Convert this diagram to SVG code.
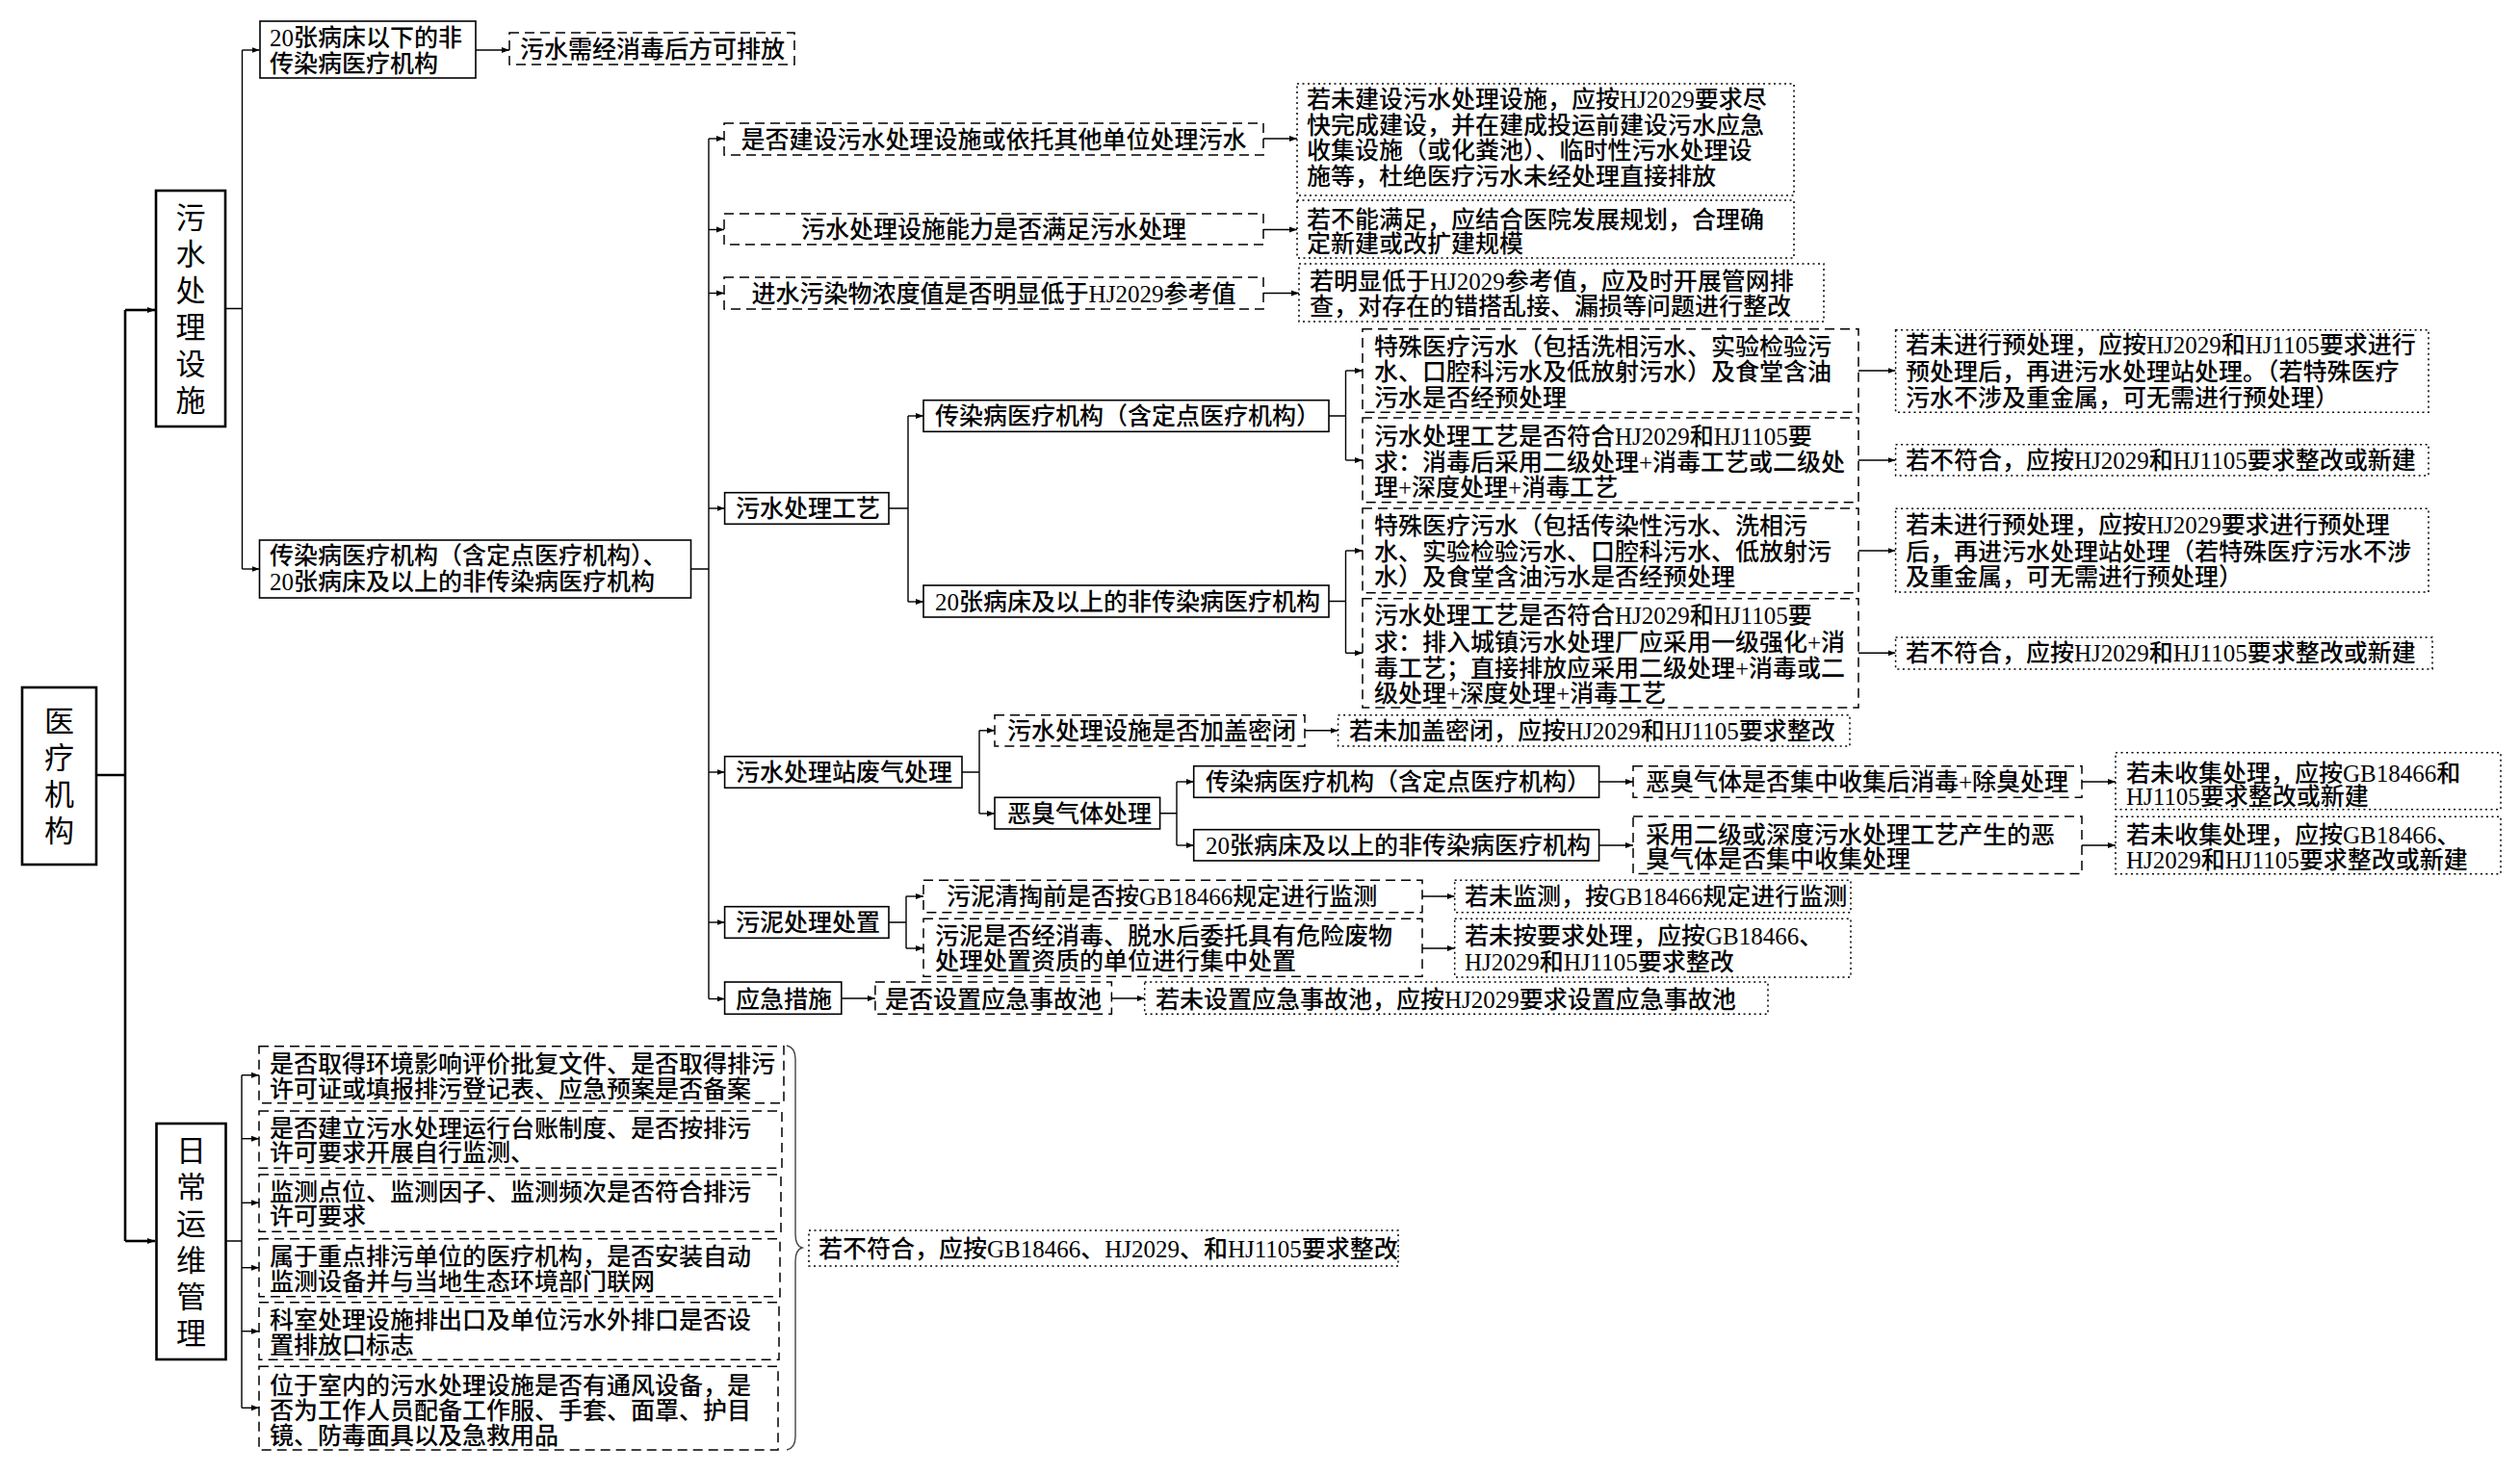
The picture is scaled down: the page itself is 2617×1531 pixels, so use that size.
<svg xmlns="http://www.w3.org/2000/svg" width="2617" height="1531" viewBox="0 0 2617 1531">
<style>
.t{font-family:"Liberation Serif","Noto Sans CJK SC",serif;font-size:25px;font-weight:500;fill:#000;}
.m{text-anchor:middle;}
.v{font-family:"Liberation Serif","Noto Sans CJK SC",serif;font-size:31px;fill:#000;text-anchor:middle;}
.main{fill:#fff;stroke:#000;stroke-width:2.6;}
.solid{fill:#fff;stroke:#000;stroke-width:1.6;}
.dash{fill:#fff;stroke:#000;stroke-width:1.5;stroke-dasharray:10 6;}
.dot{fill:#fff;stroke:#000;stroke-width:1.5;stroke-dasharray:2 3.5;}
.c{fill:none;stroke:#000;stroke-width:1.4;}
.cm{fill:none;stroke:#000;stroke-width:2.6;}
.a{marker-end:url(#ah);}
.brace{fill:none;stroke:#444;stroke-width:1.4;}
</style>
<defs>
<marker id="ah" viewBox="0 0 8 8" refX="8" refY="4" markerWidth="8" markerHeight="8" markerUnits="userSpaceOnUse" orient="auto"><path d="M0,1 L8,4 L0,7 z" fill="#000"/></marker>
</defs>
<rect width="2617" height="1531" fill="#fff"/>

<g id="connectors">
<path class="cm" d="M100,805 H130 M130,322 V1289"/>
<path class="cm a" d="M130,322 H161"/>
<path class="cm a" d="M130,1289 H161"/>
<path class="c" d="M234,320.5 H251.5 M251.5,52 V591"/>
<path class="c a" d="M251.5,52 H269.5"/>
<path class="c a" d="M251.5,591 H269.5"/>
<path class="c a" d="M494,52 H529"/>
<path class="c" d="M717.5,591 H736 M736,144 V1037.5"/>
<path class="c a" d="M736,144 H752"/>
<path class="c a" d="M736,238.5 H752"/>
<path class="c a" d="M736,304.5 H752"/>
<path class="c a" d="M736,528 H752.6"/>
<path class="c a" d="M736,802 H752.6"/>
<path class="c a" d="M736,958 H752.6"/>
<path class="c a" d="M736,1037.5 H752.6"/>
<path class="c a" d="M1312,144 H1347"/>
<path class="c a" d="M1312,238.5 H1347"/>
<path class="c a" d="M1312,304.5 H1349"/>
<path class="c" d="M923,528 H943 M943,432 V625"/>
<path class="c a" d="M943,432 H959"/>
<path class="c a" d="M943,625 H959"/>
<path class="c" d="M1380,432 H1397.5 M1397.5,385 V478"/>
<path class="c a" d="M1397.5,385 H1415"/>
<path class="c a" d="M1397.5,478 H1415"/>
<path class="c" d="M1380,624.5 H1397.5 M1397.5,572 V678.3"/>
<path class="c a" d="M1397.5,572 H1415"/>
<path class="c a" d="M1397.5,678.3 H1415"/>
<path class="c a" d="M1930,385 H1968.6"/>
<path class="c a" d="M1930,478 H1968.6"/>
<path class="c a" d="M1930,572 H1968.6"/>
<path class="c a" d="M1930,678.3 H1968.6"/>
<path class="c" d="M999,802 H1017 M1017,758.8 V845"/>
<path class="c a" d="M1017,758.8 H1033"/>
<path class="c a" d="M1017,845 H1033"/>
<path class="c a" d="M1355,758.8 H1389.6"/>
<path class="c" d="M1204.6,844.7 H1222 M1222,812 V878"/>
<path class="c a" d="M1222,812 H1239.7"/>
<path class="c a" d="M1222,878 H1239.7"/>
<path class="c a" d="M1660.6,812 H1696"/>
<path class="c a" d="M1660.6,878 H1696"/>
<path class="c a" d="M2162,812 H2197"/>
<path class="c a" d="M2162,878 H2197"/>
<path class="c" d="M923,958 H941 M941,931 V985"/>
<path class="c a" d="M941,931 H959"/>
<path class="c a" d="M941,985 H959"/>
<path class="c a" d="M1477,931 H1510.7"/>
<path class="c a" d="M1477,985 H1510.7"/>
<path class="c a" d="M873.8,1037 H908.9"/>
<path class="c a" d="M1154.4,1037 H1188.7"/>
<path class="c" d="M234.6,1289 H251 M251,1116.7 V1462.3"/>
<path class="c a" d="M251,1116.7 H269"/>
<path class="c a" d="M251,1182.7 H269"/>
<path class="c a" d="M251,1249.3 H269"/>
<path class="c a" d="M251,1316.7 H269"/>
<path class="c a" d="M251,1382.7 H269"/>
<path class="c a" d="M251,1462.3 H269"/>
<path class="brace" d="M817,1086 Q826,1088 826,1100 V1282 Q826,1294 833,1296 Q826,1298 826,1310 V1492 Q826,1504 817,1506"/>
</g>

<g id="n-root"><rect class="main" x="23" y="714" width="77" height="184"/>
<text class="v"><tspan x="61.5" y="760">医</tspan><tspan x="61.5" y="798">疗</tspan><tspan x="61.5" y="836">机</tspan><tspan x="61.5" y="874">构</tspan></text></g>

<g id="n-facility"><rect class="main" x="162" y="198" width="72" height="245"/>
<text class="v"><tspan x="198" y="236.5">污</tspan><tspan x="198" y="274.5">水</tspan><tspan x="198" y="312.5">处</tspan><tspan x="198" y="350.5">理</tspan><tspan x="198" y="388.5">设</tspan><tspan x="198" y="426.5">施</tspan></text></g>

<g id="n-daily"><rect class="main" x="162.5" y="1167" width="72" height="245"/>
<text class="v"><tspan x="198.5" y="1205.5">日</tspan><tspan x="198.5" y="1243.5">常</tspan><tspan x="198.5" y="1281.5">运</tspan><tspan x="198.5" y="1319.5">维</tspan><tspan x="198.5" y="1357.5">管</tspan><tspan x="198.5" y="1395.5">理</tspan></text></g>

<g id="n-small"><rect class="solid" x="270" y="22" width="224" height="59"/>
<text class="t"><tspan x="280" y="48">20张病床以下的非</tspan><tspan x="280" y="75">传染病医疗机构</tspan></text></g>
<g id="n-small-r"><rect class="dash" x="529" y="34" width="296" height="33"/>
<text class="t" x="540" y="59.5">污水需经消毒后方可排放</text></g>

<g id="n-large"><rect class="solid" x="269.5" y="561" width="448" height="60"/>
<text class="t"><tspan x="280" y="586">传染病医疗机构（含定点医疗机构）、</tspan><tspan x="280" y="613">20张病床及以上的非传染病医疗机构</tspan></text></g>

<g id="n-build"><rect class="dash" x="752" y="128" width="560" height="33"/>
<text class="t m" x="1032" y="153.5">是否建设污水处理设施或依托其他单位处理污水</text></g>
<g id="n-build-r"><rect class="dot" x="1347" y="87" width="516" height="116"/>
<text class="t"><tspan x="1357" y="112">若未建设污水处理设施，应按HJ2029要求尽</tspan><tspan x="1357" y="138.5">快完成建设，并在建成投运前建设污水应急</tspan><tspan x="1357" y="165">收集设施（或化粪池）、临时性污水处理设</tspan><tspan x="1357" y="191.5">施等，杜绝医疗污水未经处理直接排放</tspan></text></g>

<g id="n-capacity"><rect class="dash" x="752" y="222" width="560" height="32"/>
<text class="t m" x="1032" y="247">污水处理设施能力是否满足污水处理</text></g>
<g id="n-capacity-r"><rect class="dot" x="1347" y="208" width="516" height="60"/>
<text class="t"><tspan x="1357" y="237">若不能满足，应结合医院发展规划，合理确</tspan><tspan x="1357" y="262">定新建或改扩建规模</tspan></text></g>

<g id="n-inflow"><rect class="dash" x="752" y="288" width="560" height="33"/>
<text class="t m" x="1032" y="313.5">进水污染物浓度值是否明显低于HJ2029参考值</text></g>
<g id="n-inflow-r"><rect class="dot" x="1349" y="274" width="545" height="60"/>
<text class="t"><tspan x="1360" y="301">若明显低于HJ2029参考值，应及时开展管网排</tspan><tspan x="1360" y="327">查，对存在的错搭乱接、漏损等问题进行整改</tspan></text></g>

<g id="n-process"><rect class="solid" x="752.6" y="511.7" width="170.4" height="32.6"/>
<text class="t" x="764" y="537">污水处理工艺</text></g>
<g id="n-proc-inf"><rect class="solid" x="959" y="415.7" width="421" height="32.6"/>
<text class="t" x="971" y="441">传染病医疗机构（含定点医疗机构）</text></g>
<g id="n-proc-big"><rect class="solid" x="959" y="608" width="421" height="33"/>
<text class="t" x="971" y="633.5">20张病床及以上的非传染病医疗机构</text></g>

<g id="n-pi-1"><rect class="dash" x="1415" y="341.7" width="515" height="86.6"/>
<text class="t"><tspan x="1427" y="368.5">特殊医疗污水（包括洗相污水、实验检验污</tspan><tspan x="1427" y="395">水、口腔科污水及低放射污水）及食堂含油</tspan><tspan x="1427" y="421.5">污水是否经预处理</tspan></text></g>
<g id="n-pi-2"><rect class="dash" x="1415" y="434" width="515" height="87.7"/>
<text class="t"><tspan x="1427" y="461.5">污水处理工艺是否符合HJ2029和HJ1105要</tspan><tspan x="1427" y="488.5">求：消毒后采用二级处理+消毒工艺或二级处</tspan><tspan x="1427" y="515">理+深度处理+消毒工艺</tspan></text></g>
<g id="n-pb-1"><rect class="dash" x="1415" y="528" width="515" height="87.7"/>
<text class="t"><tspan x="1427" y="555">特殊医疗污水（包括传染性污水、洗相污</tspan><tspan x="1427" y="581.7">水、实验检验污水、口腔科污水、低放射污</tspan><tspan x="1427" y="608.3">水）及食堂含油污水是否经预处理</tspan></text></g>
<g id="n-pb-2"><rect class="dash" x="1415" y="621.7" width="515" height="113.3"/>
<text class="t"><tspan x="1427" y="648.3">污水处理工艺是否符合HJ2029和HJ1105要</tspan><tspan x="1427" y="675.7">求：排入城镇污水处理厂应采用一级强化+消</tspan><tspan x="1427" y="703.3">毒工艺；直接排放应采用二级处理+消毒或二</tspan><tspan x="1427" y="729">级处理+深度处理+消毒工艺</tspan></text></g>

<g id="n-pi-1-r"><rect class="dot" x="1968.6" y="342.7" width="553.4" height="85.6"/>
<text class="t"><tspan x="1979" y="367.3">若未进行预处理，应按HJ2029和HJ1105要求进行</tspan><tspan x="1979" y="395">预处理后，再进污水处理站处理。（若特殊医疗</tspan><tspan x="1979" y="421.7">污水不涉及重金属，可无需进行预处理）</tspan></text></g>
<g id="n-pi-2-r"><rect class="dot" x="1968.6" y="461.7" width="553.4" height="32.3"/>
<text class="t" x="1979" y="487">若不符合，应按HJ2029和HJ1105要求整改或新建</text></g>
<g id="n-pb-1-r"><rect class="dot" x="1968.6" y="528.3" width="553.4" height="86.7"/>
<text class="t"><tspan x="1979" y="554">若未进行预处理，应按HJ2029要求进行预处理</tspan><tspan x="1979" y="581.7">后，再进污水处理站处理（若特殊医疗污水不涉</tspan><tspan x="1979" y="608.3">及重金属，可无需进行预处理）</tspan></text></g>
<g id="n-pb-2-r"><rect class="dot" x="1968.6" y="662" width="557.4" height="33"/>
<text class="t" x="1979" y="687.3">若不符合，应按HJ2029和HJ1105要求整改或新建</text></g>

<g id="n-gas"><rect class="solid" x="752.6" y="785.7" width="246.4" height="32.6"/>
<text class="t" x="764" y="811">污水处理站废气处理</text></g>
<g id="n-cover"><rect class="dash" x="1033" y="742.7" width="322" height="32.3"/>
<text class="t" x="1046" y="767.8">污水处理设施是否加盖密闭</text></g>
<g id="n-cover-r"><rect class="dot" x="1389.6" y="742.7" width="531.4" height="32.3"/>
<text class="t" x="1401" y="767.8">若未加盖密闭，应按HJ2029和HJ1105要求整改</text></g>
<g id="n-odor"><rect class="solid" x="1033" y="828.3" width="171.6" height="32.7"/>
<text class="t" x="1046" y="853.7">恶臭气体处理</text></g>
<g id="n-odor-inf"><rect class="solid" x="1239.7" y="795.7" width="420.9" height="32.6"/>
<text class="t" x="1252" y="821">传染病医疗机构（含定点医疗机构）</text></g>
<g id="n-odor-big"><rect class="solid" x="1239.7" y="861.7" width="420.9" height="32.3"/>
<text class="t" x="1252" y="887">20张病床及以上的非传染病医疗机构</text></g>
<g id="n-odor-inf-q"><rect class="dash" x="1696" y="795.7" width="466" height="32.6"/>
<text class="t" x="1709" y="821">恶臭气体是否集中收集后消毒+除臭处理</text></g>
<g id="n-odor-big-q"><rect class="dash" x="1696" y="848" width="466" height="59.5"/>
<text class="t"><tspan x="1709" y="875.7">采用二级或深度污水处理工艺产生的恶</tspan><tspan x="1709" y="900.7">臭气体是否集中收集处理</tspan></text></g>
<g id="n-odor-inf-r"><rect class="dot" x="2197" y="781.7" width="400" height="59"/>
<text class="t"><tspan x="2208" y="811.7">若未收集处理，应按GB18466和</tspan><tspan x="2208" y="836.3">HJ1105要求整改或新建</tspan></text></g>
<g id="n-odor-big-r"><rect class="dot" x="2197" y="848.3" width="400" height="59.4"/>
<text class="t"><tspan x="2208" y="875.7">若未收集处理，应按GB18466、</tspan><tspan x="2208" y="901.7">HJ2029和HJ1105要求整改或新建</tspan></text></g>

<g id="n-sludge"><rect class="solid" x="752.6" y="941.7" width="170.4" height="32.6"/>
<text class="t" x="764" y="967">污泥处理处置</text></g>
<g id="n-sludge-1"><rect class="dash" x="959" y="914.3" width="518" height="33.4"/>
<text class="t" x="983" y="940">污泥清掏前是否按GB18466规定进行监测</text></g>
<g id="n-sludge-2"><rect class="dash" x="959" y="954.3" width="518" height="60"/>
<text class="t"><tspan x="971" y="980.7">污泥是否经消毒、脱水后委托具有危险废物</tspan><tspan x="971" y="1007.3">处理处置资质的单位进行集中处置</tspan></text></g>
<g id="n-sludge-1-r"><rect class="dot" x="1510.7" y="914.3" width="411.3" height="33.4"/>
<text class="t" x="1521" y="940">若未监测，按GB18466规定进行监测</text></g>
<g id="n-sludge-2-r"><rect class="dot" x="1510.7" y="954.3" width="411.3" height="60.7"/>
<text class="t"><tspan x="1521" y="980.7">若未按要求处理，应按GB18466、</tspan><tspan x="1521" y="1008.3">HJ2029和HJ1105要求整改</tspan></text></g>

<g id="n-emerg"><rect class="solid" x="752.6" y="1020" width="121.2" height="33.3"/>
<text class="t" x="764" y="1046.5">应急措施</text></g>
<g id="n-emerg-q"><rect class="dash" x="908.9" y="1020" width="245.5" height="33.3"/>
<text class="t" x="919" y="1046.5">是否设置应急事故池</text></g>
<g id="n-emerg-r"><rect class="dot" x="1188.7" y="1020" width="647.3" height="33.3"/>
<text class="t" x="1200" y="1046.5">若未设置应急事故池，应按HJ2029要求设置应急事故池</text></g>

<g id="n-d1"><rect class="dash" x="269" y="1086.7" width="545" height="59"/>
<text class="t"><tspan x="280" y="1114">是否取得环境影响评价批复文件、是否取得排污</tspan><tspan x="280" y="1139.7">许可证或填报排污登记表、应急预案是否备案</tspan></text></g>
<g id="n-d2"><rect class="dash" x="269" y="1154" width="543" height="59.3"/>
<text class="t"><tspan x="280" y="1180.7">是否建立污水处理运行台账制度、是否按排污</tspan><tspan x="280" y="1206.3">许可要求开展自行监测、</tspan></text></g>
<g id="n-d3"><rect class="dash" x="269" y="1220" width="542" height="59.3"/>
<text class="t"><tspan x="280" y="1247.3">监测点位、监测因子、监测频次是否符合排污</tspan><tspan x="280" y="1272.3">许可要求</tspan></text></g>
<g id="n-d4"><rect class="dash" x="269" y="1286.7" width="541" height="60"/>
<text class="t"><tspan x="280" y="1314">属于重点排污单位的医疗机构，是否安装自动</tspan><tspan x="280" y="1339.7">监测设备并与当地生态环境部门联网</tspan></text></g>
<g id="n-d5"><rect class="dash" x="269" y="1352.7" width="540" height="59.6"/>
<text class="t"><tspan x="280" y="1379.7">科室处理设施排出口及单位污水外排口是否设</tspan><tspan x="280" y="1405.7">置排放口标志</tspan></text></g>
<g id="n-d6"><rect class="dash" x="269" y="1419.3" width="539" height="86.7"/>
<text class="t"><tspan x="280" y="1448">位于室内的污水处理设施是否有通风设备，是</tspan><tspan x="280" y="1474">否为工作人员配备工作服、手套、面罩、护目</tspan><tspan x="280" y="1500">镜、防毒面具以及急救用品</tspan></text></g>
<g id="n-daily-r"><rect class="dot" x="840" y="1278" width="612" height="37"/>
<text class="t" x="850" y="1305.5">若不符合，应按GB18466、HJ2029、和HJ1105要求整改</text></g>
</svg>
